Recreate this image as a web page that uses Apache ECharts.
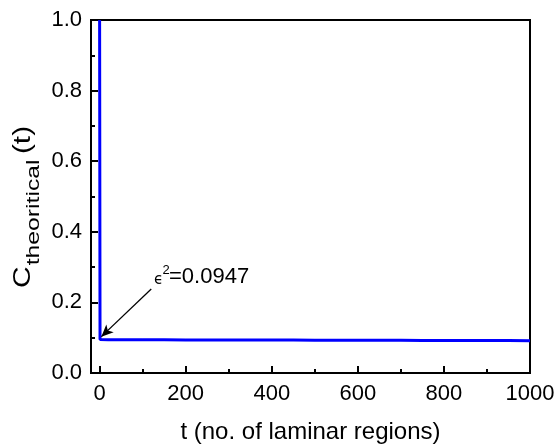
<!DOCTYPE html>
<html>
<head>
<meta charset="utf-8">
<script src="https://cdn.jsdelivr.net/npm/echarts@6/dist/echarts.min.js"></script>
<style>
  html, body { margin: 0; padding: 0; background: #fff; }
  #main { width: 557px; height: 446px; }
</style>
</head>
<body>
<div id="main"></div>
<script>
// values
var tValues = [0, 1, 20, 50, 100, 150, 200, 250, 300, 350, 400, 450, 500, 550, 600, 650, 700, 750, 800, 850, 900, 950, 1000];
var cValues = [1.0, 0.0947, 0.0945, 0.0943, 0.0941, 0.094, 0.0938, 0.0937, 0.0936, 0.0934, 0.0933, 0.0932, 0.093, 0.0929, 0.0928, 0.0926, 0.0925, 0.0923, 0.0922, 0.092, 0.0919, 0.0918, 0.0916];
var xMajor = [0, 200, 400, 600, 800, 1000];
var xMinor = [100, 300, 500, 700, 900];
var arrowFrom = [120, 0.238];
var arrowTo = [4, 0.103];

var lineData = [];
for (var i = 0; i < tValues.length; i++) {
  lineData.push([tValues[i], cValues[i]]);
}

var chart = echarts.init(document.getElementById('main'));
var fontFam = 'Liberation Sans, Arial, sans-serif';

option = {
  animation: false,
  backgroundColor: '#fff',
  grid: {
    left: 91, right: 27, top: 20, bottom: 73,
    outerBoundsMode: 'none',
    show: true,
    borderColor: '#000',
    borderWidth: 2
  },
  xAxis: [
    {
      type: 'value',
      min: -20, max: 1000,
      name: 't (no. of laminar regions)',
      nameLocation: 'middle',
      nameGap: 47,
      nameTextStyle: { fontSize: 24, color: '#000', fontFamily: fontFam },
      axisLine: { show: true, onZero: false, lineStyle: { color: '#000', width: 2 } },
      axisTick: { show: true, inside: true, length: 7, lineStyle: { color: '#000', width: 2 }, customValues: xMajor },
      axisLabel: {
        fontSize: 22, color: '#000', fontFamily: fontFam, margin: 10, customValues: xMajor,
        formatter: function (v) { return String(v); }
      },
      splitLine: { show: false }
    },
    {
      type: 'value',
      min: -20, max: 1000,
      position: 'bottom',
      axisLine: { show: false },
      axisTick: { show: true, inside: true, length: 4, lineStyle: { color: '#000', width: 2 }, customValues: xMinor },
      axisLabel: { show: false },
      splitLine: { show: false }
    }
  ],
  yAxis: {
    type: 'value',
    min: 0, max: 1, interval: 0.2,
    axisLine: { show: true, onZero: false, lineStyle: { color: '#000', width: 2 } },
    axisTick: { show: true, inside: true, length: 7, lineStyle: { color: '#000', width: 2 } },
    minorTick: { show: true, splitNumber: 2, length: 4, lineStyle: { color: '#000', width: 2 } },
    axisLabel: {
      fontSize: 22, color: '#000', fontFamily: fontFam, margin: 9,
      formatter: function (v) { return v.toFixed(1); }
    },
    splitLine: { show: false }
  },
  series: [
    {
      type: 'line',
      data: lineData,
      showSymbol: false,
      clip: true,
      lineStyle: { color: '#0000ff', width: 3 },
      itemStyle: { color: '#0000ff' },
      markLine: {
        silent: true,
        symbol: ['none', 'arrow'],
        symbolSize: [8, 12],
        label: { show: false },
        lineStyle: { color: '#000', width: 1.3, type: 'solid' },
        data: [[{ coord: arrowFrom }, { coord: arrowTo }]]
      }
    }
  ],
  graphic: [
    {
      // y axis title, rotated, with subscript
      type: 'group',
      x: 0,
      y: 288,
      rotation: Math.PI / 2,
      scaleX: 1.3,
      children: [
        { type: 'text', x: 0, y: 24, style: { text: 'C', fontSize: 23, fontFamily: fontFam, fill: '#000', align: 'left', verticalAlign: 'middle' } },
        { type: 'text', x: 17.5, y: 34, style: { text: 'theoritical', fontSize: 19, fontFamily: fontFam, fill: '#000', align: 'left', verticalAlign: 'middle' } },
        { type: 'text', x: 103, y: 24, style: { text: '(t)', fontSize: 23, fontFamily: fontFam, fill: '#000', align: 'left', verticalAlign: 'middle' } }
      ]
    },
    { type: 'text', x: 154, y: 280, style: { text: '\u03f5', fontSize: 15, fontFamily: 'DejaVu Sans', fill: '#000', align: 'left', verticalAlign: 'middle' } },
    { type: 'text', x: 162.5, y: 270, style: { text: '2', fontSize: 13, fontFamily: fontFam, fill: '#000', align: 'left', verticalAlign: 'middle' } },
    { type: 'text', x: 169, y: 276.5, style: { text: '=0.0947', fontSize: 22, fontFamily: fontFam, fill: '#000', align: 'left', verticalAlign: 'middle' } }
  ]
};
chart.setOption(option);
</script>
</body>
</html>
